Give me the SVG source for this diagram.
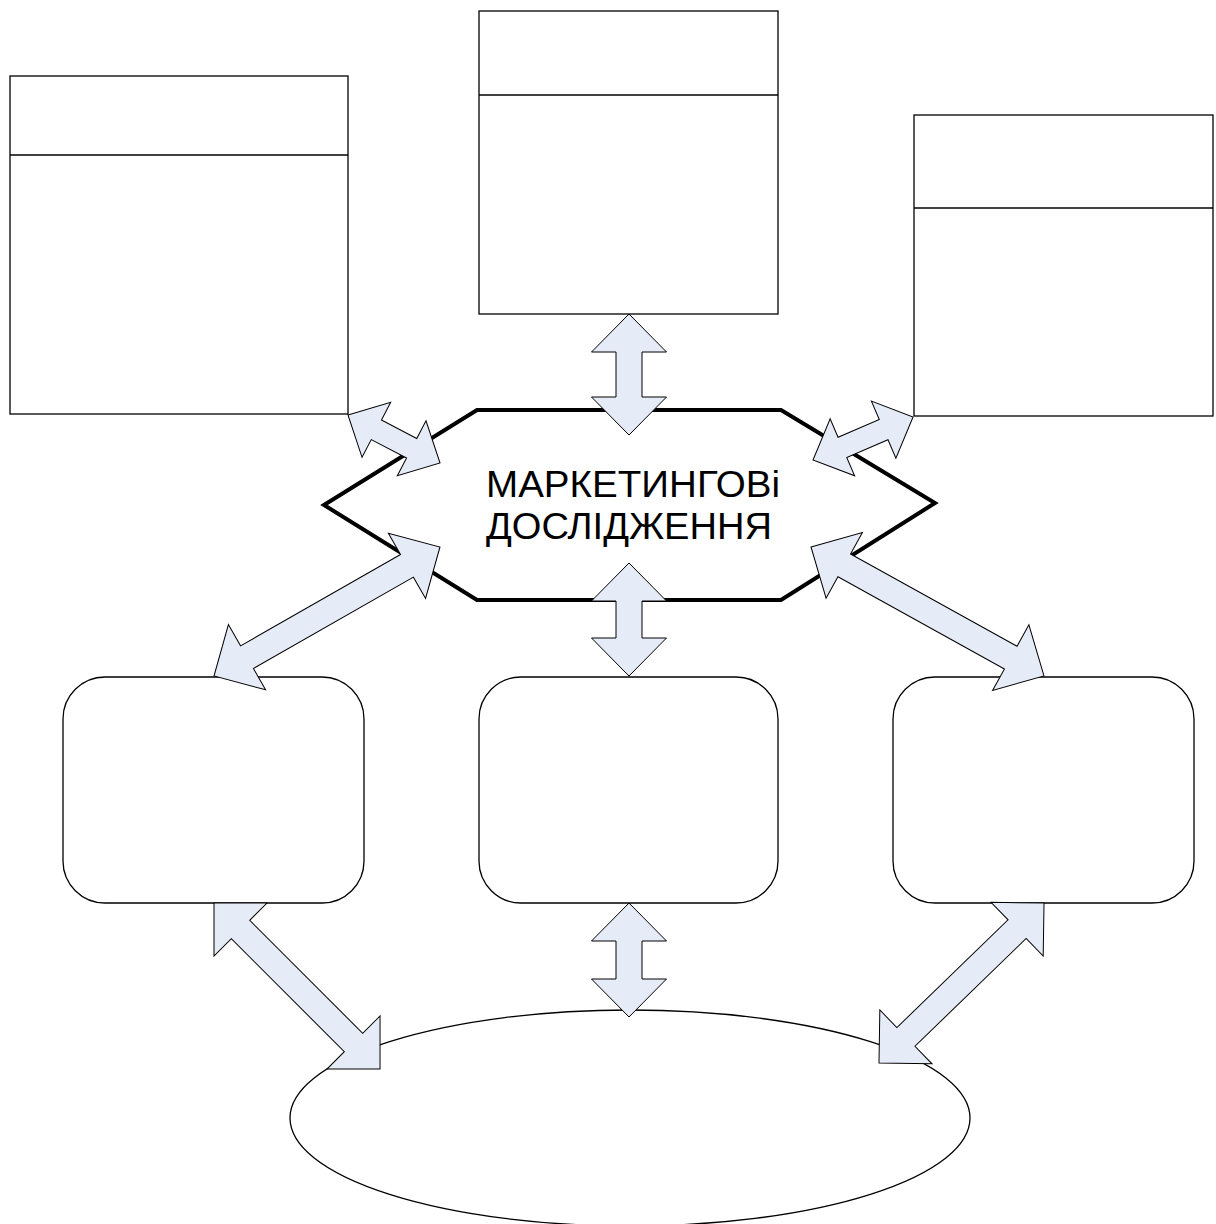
<svg xmlns="http://www.w3.org/2000/svg" width="1216" height="1224" viewBox="0 0 1216 1224">
  <style>
    .box { fill: #ffffff; stroke: #000000; stroke-width: 1.3; }
    .div { stroke: #000000; stroke-width: 1.6; }
    .hex { fill: #ffffff; stroke: #000000; stroke-width: 4; stroke-linejoin: miter; }
    .arrow { fill: #E6ECF7; stroke: #000000; stroke-width: 1; stroke-linejoin: miter; }
    .label { font-family: "Liberation Sans", Arial, sans-serif; font-size: 36px; fill: #000000; }
  </style>
  <rect width="1216" height="1224" fill="#ffffff"/>

  <!-- upper header boxes -->
  <g id="box-top-left">
    <rect class="box" x="10" y="76" width="338" height="338"/>
    <line class="div" x1="10" y1="155" x2="348" y2="155"/>
  </g>
  <g id="box-top-center">
    <rect class="box" x="479" y="11" width="299" height="303"/>
    <line class="div" x1="479" y1="95" x2="778" y2="95"/>
  </g>
  <g id="box-top-right">
    <rect class="box" x="914" y="115" width="299" height="301"/>
    <line class="div" x1="914" y1="208" x2="1213" y2="208"/>
  </g>

  <!-- central hexagon -->
  <g id="research">
    <polygon class="hex" points="324,505 477,410 781,410 935,503 781,600 477,600"/>
    <text class="label" x="486" y="497" textLength="294" lengthAdjust="spacingAndGlyphs">МАРКЕТИНГОВі</text>
    <text class="label" x="486" y="539" textLength="286" lengthAdjust="spacingAndGlyphs">ДОСЛІДЖЕННЯ</text>
  </g>

  <!-- middle rounded boxes -->
  <g id="box-mid-left">
    <rect class="box" x="63" y="677" width="301" height="226" rx="42" ry="42"/>
  </g>
  <g id="box-mid-center">
    <rect class="box" x="479" y="677" width="299" height="226" rx="42" ry="42"/>
  </g>
  <g id="box-mid-right">
    <rect class="box" x="893" y="677" width="301" height="226" rx="42" ry="42"/>
  </g>

  <!-- bottom ellipse -->
  <g id="ellipse-bottom">
    <ellipse class="box" cx="630" cy="1118" rx="340" ry="108"/>
  </g>

  <!-- double block arrows: local x axis runs tip to tip -->
  <g id="connectors">
    <!-- small arrows (head 32, half-width 31, shaft 11) -->
    <path class="arrow" transform="translate(348,415) rotate(27.55)"
          d="M0,0 L32,-31 L32,-11 L71.8,-11 L71.8,-31 L103.8,0 L71.8,31 L71.8,11 L32,11 L32,31 Z"/>
    <path class="arrow" transform="translate(813,460) rotate(-23.27)"
          d="M0,0 L32,-31 L32,-11 L76.9,-11 L76.9,-31 L108.9,0 L76.9,31 L76.9,11 L32,11 L32,31 Z"/>
    <!-- large arrows (head 38, half-width 37.5, shaft 13) -->
    <path class="arrow" transform="translate(629,314) rotate(90)"
          d="M0,0 L38,-37.5 L38,-13 L83,-13 L83,-37.5 L121,0 L83,37.5 L83,13 L38,13 L38,37.5 Z"/>
    <path class="arrow" transform="translate(629,563) rotate(90)"
          d="M0,0 L38,-37.5 L38,-13 L75,-13 L75,-37.5 L113,0 L75,37.5 L75,13 L38,13 L38,37.5 Z"/>
    <path class="arrow" transform="translate(629,903) rotate(90)"
          d="M0,0 L38,-37.5 L38,-13 L76,-13 L76,-37.5 L114,0 L76,37.5 L76,13 L38,13 L38,37.5 Z"/>
    <path class="arrow" transform="translate(214,676) rotate(-29.72)"
          d="M0,0 L38,-37.5 L38,-13 L222.2,-13 L222.2,-37.5 L260.2,0 L222.2,37.5 L222.2,13 L38,13 L38,37.5 Z"/>
    <path class="arrow" transform="translate(811,547) rotate(28.97)"
          d="M0,0 L38,-37.5 L38,-13 L228.3,-13 L228.3,-37.5 L266.3,0 L228.3,37.5 L228.3,13 L38,13 L38,37.5 Z"/>
    <path class="arrow" transform="translate(214,903) rotate(45)"
          d="M0,0 L37.5,-37.5 L37.5,-13 L197.3,-13 L197.3,-37.5 L234.8,0 L197.3,37.5 L197.3,13 L37.5,13 L37.5,37.5 Z"/>
    <path class="arrow" transform="translate(879,1063) rotate(-44.1)"
          d="M0,0 L37.5,-37.5 L37.5,-13 L192.3,-13 L192.3,-37.5 L229.8,0 L192.3,37.5 L192.3,13 L37.5,13 L37.5,37.5 Z"/>
  </g>
</svg>
